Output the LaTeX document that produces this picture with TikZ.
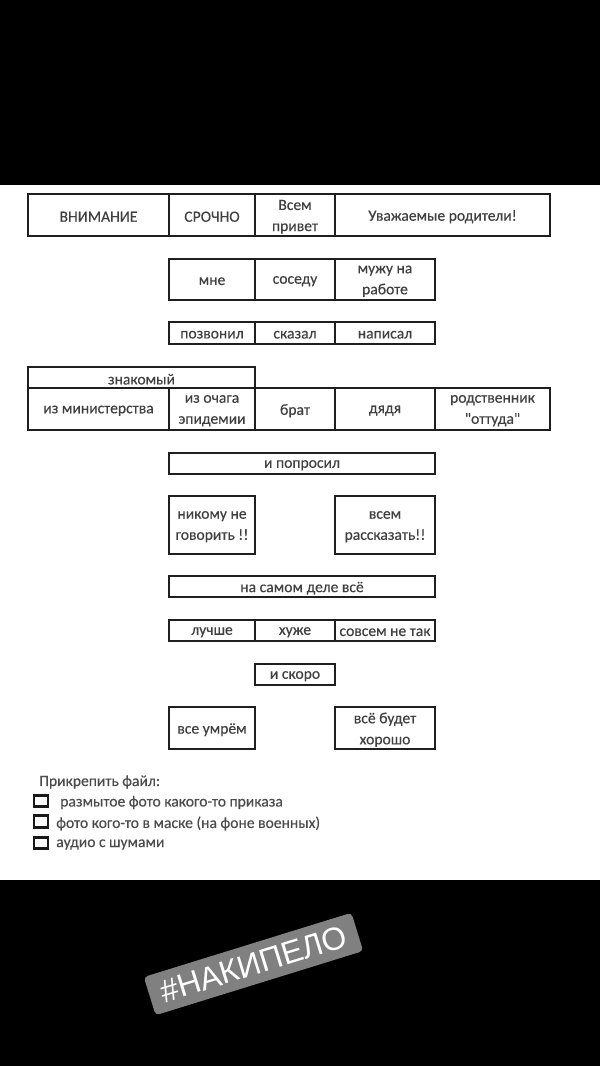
\documentclass[tikz,border=0pt]{standalone}
\usepackage{fontspec}
\setmainfont[FakeBold=0.3]{Carlito}
\newfontfamily\tagfont{Liberation Sans}
\def\cell(#1)(#2,#3,#4,#5)#6{
	\node[cell, minimum width={(#4-#2)*0.75pt}, minimum height={(#5-#3)*0.75pt}] (#1) at ({(#2+#4)/2},{(#3+#5)/2}) {};
	\node[celltext] (#1 text) at (#1.center) {#6};
}
\tikzset{
	cell/.style={draw=black!88, line width=1.4pt, inner sep=0pt},
	celltext/.style={inner sep=0pt, yshift=-1.3pt, align=center, text=black!75, font=\fontsize{11.7}{15.8}\selectfont},
	checkbox/.style={draw=black!90, line width=2.2pt, fill=white, inner sep=0pt, minimum width=10.5pt, minimum height=8.5pt},
	filetext/.style={anchor=west, inner sep=0pt, text=black!70, font=\fontsize{11.7}{13}\selectfont},
}
\begin{document}
\begin{tikzpicture}[x=0.75pt, y=-0.75pt]
	%%%%% START %%%%%
	\useasboundingbox (0, 0) rectangle (600, 1066);
	\fill[black] (0, 0) rectangle (600, 1066);
	\fill[white] (0, 185) rectangle (600, 880);

	\cell(vnimanie)(28,194,169,236){ВНИМАНИЕ}
	\cell(srochno)(169,194,255,236){СРОЧНО}
	\cell(privet)(255,194,335,236){Всем\\привет}
	\cell(roditeli)(335,194,550,236){Уважаемые родители!}

	\cell(mne)(169,259,255,300){мне}
	\cell(sosedu)(255,259,335,300){соседу}
	\cell(muzhu)(335,259,435,300){мужу на\\работе}

	\cell(pozvonil)(169,322,255,344){позвонил}
	\cell(skazal)(255,322,335,344){сказал}
	\cell(napisal)(335,322,435,344){написал}

	\cell(znakomy)(28,367,255,388){знакомый}
	\cell(ministerstvo)(28,388,169,430){из министерства}
	\cell(ochag)(169,388,255,430){из очага\\эпидемии}
	\cell(brat)(255,388,335,430){брат}
	\cell(dyadya)(335,388,435,430){дядя}
	\cell(rodstvennik)(435,388,550,430){родственник\\\textquotedbl оттуда\textquotedbl}

	\cell(poprosil)(169,453,435,474){и попросил}

	\cell(nikomu)(169,496,255,554){никому не\\говорить !!}
	\cell(vsem)(335,496,435,554){всем\\рассказать!!}

	\cell(nasamom)(169,576,435,597){на самом деле всё}

	\cell(luchshe)(169,620,255,641){лучше}
	\cell(huzhe)(255,620,335,641){хуже}
	\cell(sovsem)(335,620,435,641){совсем не так}

	\cell(skoro)(255,664,335,685){и скоро}

	\cell(umrem)(169,707,255,749){все умрём}
	\cell(horosho)(335,707,435,749){всё будет\\хорошо}

	\node[filetext] (prikrepit) at (39, 782) {Прикрепить файл:};
	\node[checkbox] (box1) at (41, 801) {};
	\node[filetext] (foto1) at (60, 802.5) {размытое фото какого-то приказа};
	\node[checkbox] (box2) at (41, 821.5) {};
	\node[filetext] (foto2) at (56, 823.5) {фото кого-то в маске (на фоне военных)};
	\node[checkbox] (box3) at (41, 843) {};
	\node[filetext] (audio) at (56, 844.5) {аудио с шумами};

	\node[fill=black!50, rounded corners=3pt, rotate=17.2, minimum width=163pt, minimum height=30pt, inner sep=0pt, text=white, font=\tagfont\fontsize{24}{26}\selectfont] (hashtag) at (253.5, 964) {\#НАКИПЕЛО};
	%%%%% END %%%%%
\end{tikzpicture}
\end{document}
